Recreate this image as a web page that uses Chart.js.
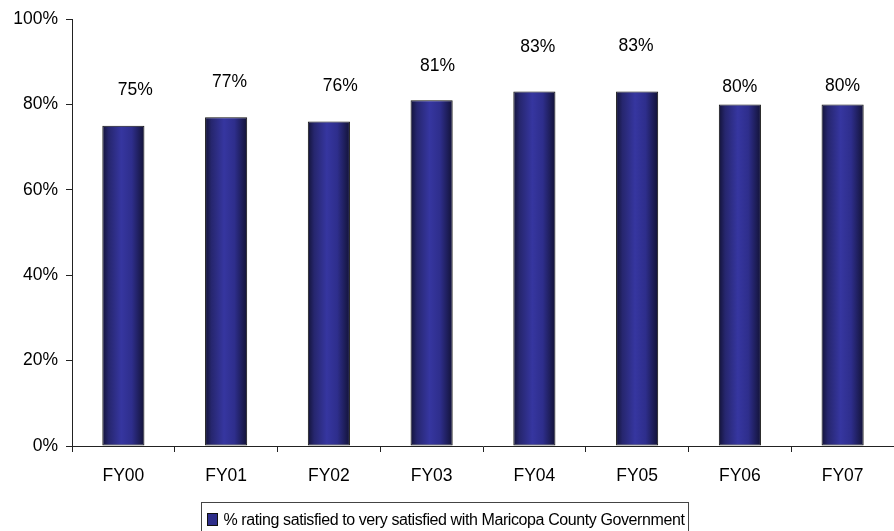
<!DOCTYPE html>
<html>
<head>
<meta charset="utf-8">
<script src="https://cdn.jsdelivr.net/npm/chart.js@4.4.0/dist/chart.umd.min.js"></script>
<style>
  html, body { margin: 0; padding: 0; background: #fff; }
</style>
</head>
<body>
<canvas id="satisfactionChart" width="894" height="531"></canvas>
<script>
'use strict';

const fiscalYears = ['FY00', 'FY01', 'FY02', 'FY03', 'FY04', 'FY05', 'FY06', 'FY07'];
const satisfiedPct = [75, 77, 76, 81, 83, 83, 80, 80];
const yTicks = [0, 20, 40, 60, 80, 100];
const seriesLabel = '% rating satisfied to very satisfied with Maricopa County Government';

// value labels were hand-placed in the original, so nudge each one
const labelLift = [35.5, 35.5, 35.5, 34, 44, 45, 17.5, 18];
const labelShift = [12, 3.5, 11.5, 6, 3.5, -1, 0, 0];

const FONT = '"Liberation Sans", Arial, sans-serif';
const BAR_PCT = 0.41;

function barFill(context) {
    const chart = context.chart;
    const xs = chart.scales.x;
    if (!xs || !chart.chartArea || context.type !== 'data') {
        return '#2e2e8a';
    }
    const cx = xs.getPixelForValue(context.dataIndex);
    const half = xs.width / fiscalYears.length * BAR_PCT / 2;
    const g = chart.ctx.createLinearGradient(cx - half, 0, cx + half, 0);
    g.addColorStop(0, '#131338');
    g.addColorStop(0.15, '#26266e');
    g.addColorStop(0.45, '#3636a0');
    g.addColorStop(0.7, '#2e2e8c');
    g.addColorStop(1, '#121236');
    return g;
}

const valueLabels = {
    id: 'valueLabels',
    afterDatasetsDraw(chart) {
        const ctx = chart.ctx;
        const meta = chart.getDatasetMeta(0);
        ctx.save();
        ctx.font = '17.5px ' + FONT;
        ctx.fillStyle = '#000';
        ctx.textAlign = 'center';
        ctx.textBaseline = 'middle';
        meta.data.forEach(function (bar, i) {
            ctx.fillText(satisfiedPct[i] + '%', bar.x + labelShift[i], bar.y - labelLift[i]);
        });
        ctx.restore();
    }
};

const boxedLegend = {
    id: 'boxedLegend',
    afterDraw(chart) {
        const ctx = chart.ctx;
        ctx.save();
        ctx.font = '16px ' + FONT;
        ctx.letterSpacing = '-0.4px';
        const textW = ctx.measureText(seriesLabel).width;
        const boxW = textW + 26;
        const left = Math.round(chart.width / 2 - 2 - boxW / 2) + 0.5;
        const top = 502.5;
        ctx.strokeStyle = '#444';
        ctx.lineWidth = 1;
        ctx.strokeRect(left, top, boxW, 40);
        ctx.fillStyle = '#2e2e8a';
        ctx.fillRect(left + 6, top + 11, 10, 12);
        ctx.strokeStyle = '#111';
        ctx.strokeRect(left + 6, top + 11, 10, 12);
        ctx.fillStyle = '#000';
        ctx.textAlign = 'left';
        ctx.textBaseline = 'middle';
        ctx.fillText(seriesLabel, left + 22, top + 18.5);
        ctx.restore();
    }
};

new Chart('satisfactionChart', {
    type: 'bar',
    data: {
        labels: fiscalYears,
        datasets: [{
            label: seriesLabel,
            data: satisfiedPct,
            backgroundColor: barFill,
            borderColor: '#111',
            borderWidth: 1,
            borderSkipped: false,
            barPercentage: BAR_PCT,
            categoryPercentage: 1
        }]
    },
    options: {
        responsive: false,
        animation: false,
        devicePixelRatio: 1,
        layout: {
            padding: { top: 19, right: 0, bottom: 45, left: 0 }
        },
        plugins: {
            legend: { display: false },
            tooltip: { enabled: false }
        },
        scales: {
            x: {
                offset: true,
                grid: {
                    offset: true,
                    drawOnChartArea: false,
                    drawTicks: true,
                    tickLength: 6,
                    color: '#222'
                },
                border: { color: '#222', width: 1 },
                ticks: {
                    color: '#000',
                    padding: 14,
                    font: { family: FONT, size: 17.5 },
                    maxRotation: 0
                },
                afterFit: function (scale) { scale.height = 40; }
            },
            y: {
                min: 0,
                max: 100,
                grid: {
                    drawOnChartArea: false,
                    drawTicks: true,
                    tickLength: 6,
                    color: '#222'
                },
                border: { color: '#222', width: 1 },
                afterBuildTicks: function (scale) {
                    scale.ticks = yTicks.map(function (v) { return { value: v }; });
                },
                ticks: {
                    color: '#000',
                    padding: 8,
                    font: { family: FONT, size: 17.5 },
                    callback: function (v) { return v + '%'; }
                },
                afterFit: function (scale) { scale.width = 72; }
            }
        }
    },
    plugins: [valueLabels, boxedLegend]
});
</script>
</body>
</html>
